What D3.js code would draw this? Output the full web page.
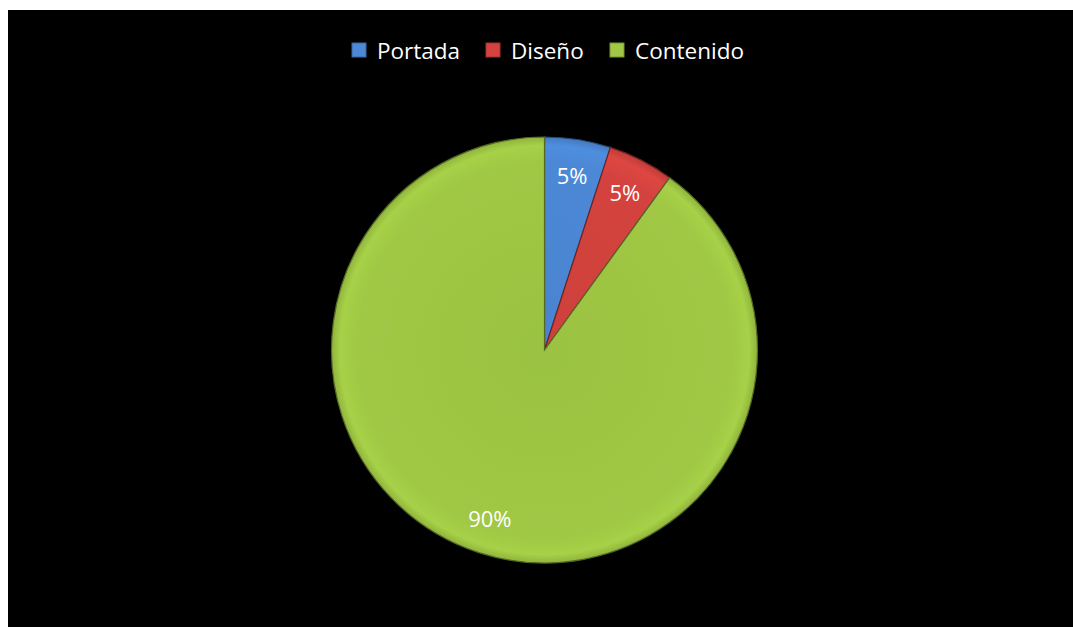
<!DOCTYPE html>
<html>
<head>
<meta charset="utf-8">
<script src="https://cdn.jsdelivr.net/npm/d3@7"></script>
<style>
  html, body { margin: 0; padding: 0; background: #ffffff; }
  svg { display: block; }
</style>
</head>
<body>
<svg id="chart" width="1073" height="627"></svg>
<script>
// Share of effort per section
const categories = ["Portada", "Diseño", "Contenido"];
const values = [5, 5, 90];
const labels = ["5%", "5%", "90%"];
const colors = ["#4c88d6", "#d4433f", "#a0c844"];

const W = 1073, H = 627;
const svg = d3.select("#chart");

// dark plot area
svg.append("rect")
  .attr("x", 8).attr("y", 10)
  .attr("width", W - 8).attr("height", H - 10)
  .attr("fill", "#000000");

const cx = 544.5, cy = 350, R = 213;

const defs = svg.append("defs");
// soft bevel per slice: even body, brighter edge band, darker rim
colors.forEach((c, i) => {
  const g = defs.append("radialGradient")
    .attr("id", "grad" + i)
    .attr("gradientUnits", "userSpaceOnUse")
    .attr("cx", cx).attr("cy", cy).attr("r", R);
  const base = d3.color(c);
  g.append("stop").attr("offset", "0%").attr("stop-color", base.darker(0.08));
  g.append("stop").attr("offset", "88%").attr("stop-color", base);
  g.append("stop").attr("offset", "96%").attr("stop-color", base.brighter(0.12));
  g.append("stop").attr("offset", "100%").attr("stop-color", base.darker(0.3));
});
const blur = defs.append("filter").attr("id", "soft")
  .attr("x", "-5%").attr("y", "-5%").attr("width", "110%").attr("height", "110%");
blur.append("feGaussianBlur").attr("stdDeviation", 0.6);

const pie = d3.pie().sort(null).value(d => d)
  .startAngle(0).endAngle(2 * Math.PI);
const arcs = pie(values);
const arc = d3.arc().innerRadius(0).outerRadius(R);
const labelArc = d3.arc().innerRadius(R * 0.83).outerRadius(R * 0.83);

const g = svg.append("g").attr("transform", `translate(${cx},${cy})`);

g.selectAll("path.slice")
  .data(arcs)
  .join("path")
  .attr("class", "slice")
  .attr("d", arc)
  .attr("fill", (d, i) => `url(#grad${i})`)
  .attr("stroke", (d, i) => d3.color(colors[i]).darker(1.8))
  .attr("stroke-width", 1.2)
  .attr("filter", "url(#soft)");

// the gradient is in user space of the group, so shift its centre to the origin
defs.selectAll("radialGradient").attr("cx", 0).attr("cy", 0);

g.selectAll("text.val")
  .data(arcs)
  .join("text")
  .attr("class", "val")
  .attr("transform", d => `translate(${labelArc.centroid(d)})`)
  .attr("text-anchor", "middle")
  .attr("dominant-baseline", "central")
  .attr("font-family", "'Open Sans', sans-serif")
  .attr("font-size", 22)
  .attr("fill", "#ffffff")
  .text((d, i) => labels[i]);

// legend
const legendX = [352, 486, 610];
const legend = svg.append("g");
categories.forEach((name, i) => {
  const base = d3.color(colors[i]);
  legend.append("rect")
    .attr("x", legendX[i]).attr("y", 43)
    .attr("width", 14).attr("height", 14)
    .attr("fill", base)
    .attr("stroke", base.darker(0.8))
    .attr("stroke-width", 1);
  legend.append("text")
    .attr("x", legendX[i] + 25).attr("y", 50)
    .attr("dominant-baseline", "central")
    .attr("font-family", "'Open Sans', sans-serif")
    .attr("font-size", 22.5)
    .attr("fill", "#ffffff")
    .text(name);
});
</script>
</body>
</html>
